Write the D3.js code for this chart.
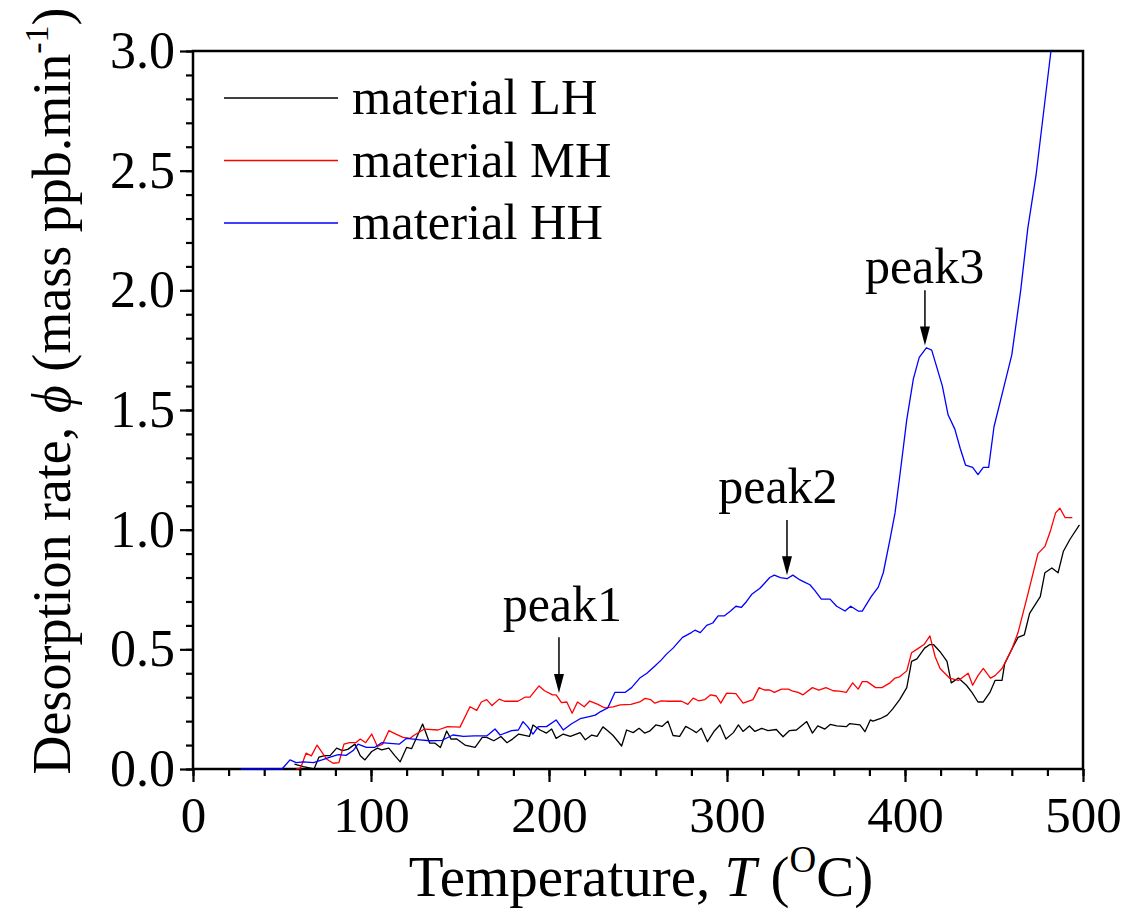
<!DOCTYPE html>
<html><head><meta charset="utf-8">
<script src="https://cdn.jsdelivr.net/npm/d3@7/dist/d3.min.js"></script>
<style>body{margin:0;background:#fff}svg{display:block}text{font-family:"Liberation Serif","Times New Roman",serif}</style>
</head><body>
<svg id="c" width="1128" height="910"></svg>
<script>
// ---- data ----
const xTicks = [0,100,200,300,400,500];
const yTicks = [0.0,0.5,1.0,1.5,2.0,2.5,3.0];
const seriesNames = ["material LH","material MH","material HH"];
const seriesColors = ["#000000","#ff0000","#0000ff"];

const dataLH = [[57,0.02],[62,0.01],[68,0.0],[70.8,0.05],[74,0.056],[77,0.056],[80.7,0.087],[84,0.077],[87,0.082],[91,0.104],[94,0.055],[96.6,0.038],[100.4,0.073],[103.6,0.087],[106,0.08],[110,0.087],[113.5,0.055],[116.4,0.03],[120,0.09],[122.8,0.085],[129,0.188],[133,0.108],[136,0.108],[139,0.09],[142.5,0.159],[145,0.125],[148,0.126],[152.8,0.10],[158.5,0.09],[162.5,0.132],[165,0.132],[169,0.118],[173,0.136],[176.4,0.11],[179.5,0.125],[183,0.146],[189,0.136],[191,0.184],[195,0.163],[198.6,0.15],[201.5,0.167],[204,0.128],[208,0.146],[212,0.136],[217.5,0.152],[220.4,0.122],[224,0.142],[227,0.136],[230.3,0.176],[233,0.16],[236,0.14],[240.8,0.096],[243.6,0.163],[247.3,0.152],[250.6,0.17],[253.7,0.15],[256.5,0.158],[260,0.184],[263.5,0.178],[266.8,0.2],[269.7,0.14],[273.4,0.136],[276.8,0.178],[280,0.165],[282.8,0.152],[285.6,0.17],[289,0.114],[293,0.16],[296,0.184],[299.4,0.125],[303.6,0.152],[306.4,0.184],[309,0.157],[312.6,0.18],[315.7,0.157],[319.5,0.17],[323,0.16],[327.7,0.165],[331.5,0.135],[335,0.16],[339,0.163],[344.8,0.198],[348,0.15],[351,0.18],[355,0.167],[358,0.186],[361.6,0.18],[367,0.177],[369,0.19],[374.7,0.184],[377.5,0.156],[380.5,0.205],[382,0.20],[386,0.21],[390,0.225],[393,0.25],[397,0.29],[401,0.34],[403.7,0.45],[406.7,0.46],[411,0.505],[414,0.52],[416,0.52],[419.7,0.49],[423.6,0.45],[426,0.36],[430,0.38],[434.5,0.35],[437.6,0.32],[441,0.28],[444,0.28],[447.7,0.32],[450.6,0.37],[454.5,0.37],[456,0.44],[460,0.50],[463.5,0.55],[467,0.56],[470,0.65],[476,0.72],[478.6,0.82],[482.5,0.84],[486,0.82],[489,0.91],[492.7,0.96],[498,1.02]];

const dataMH = [[58,0],[60.5,0.005],[63.5,0.066],[66.5,0.055],[69.7,0.10],[75,0.042],[78.7,0.024],[82,0.027],[84.8,0.104],[88,0.11],[91.4,0.11],[94,0.125],[97,0.11],[100.4,0.146],[103.6,0.094],[106.5,0.104],[110,0.16],[114,0.146],[118,0.132],[122,0.128],[124,0.14],[130,0.167],[137.6,0.163],[143,0.177],[150,0.175],[155.6,0.26],[159.4,0.245],[162,0.28],[165,0.29],[168,0.265],[172,0.292],[175,0.283],[182.5,0.283],[186.5,0.30],[189.3,0.30],[194.4,0.347],[197.5,0.327],[202,0.31],[204,0.31],[207,0.277],[210,0.28],[213,0.233],[216,0.28],[219.8,0.26],[222.9,0.284],[227.5,0.27],[231.3,0.255],[236,0.26],[240,0.268],[246,0.27],[251,0.28],[254,0.295],[257,0.29],[259.5,0.275],[263,0.285],[267,0.283],[274.5,0.283],[278,0.27],[281,0.296],[284,0.285],[287.6,0.29],[290.8,0.31],[294,0.305],[296.5,0.275],[299.8,0.317],[305,0.315],[309,0.275],[314.6,0.29],[318,0.34],[321,0.33],[324,0.33],[326.6,0.32],[330.7,0.334],[334.5,0.334],[337,0.325],[340,0.32],[342.7,0.31],[348,0.34],[351.6,0.33],[355.6,0.34],[359.6,0.327],[363,0.325],[367,0.32],[370.6,0.36],[373.7,0.334],[376,0.365],[378.7,0.365],[383.5,0.34],[387,0.34],[391.6,0.36],[394.4,0.38],[397,0.385],[401,0.41],[403.7,0.486],[406.6,0.50],[410.7,0.52],[414,0.556],[416.9,0.47],[419.7,0.42],[425,0.38],[430,0.37],[435.5,0.40],[438,0.35],[441,0.39],[444,0.42],[448,0.38],[450.6,0.39],[454.5,0.42],[460,0.50],[463.5,0.57],[469,0.73],[474.7,0.90],[478.6,0.93],[481.5,0.99],[484.6,1.07],[487,1.09],[490,1.05],[494,1.05]];

const dataHH = [[27,0],[50,0],[54.5,0.038],[58,0.027],[62,0.03],[67.7,0.027],[72.5,0.038],[77,0.05],[81.6,0.06],[86,0.057],[90,0.077],[92.7,0.104],[97.4,0.09],[102,0.09],[106,0.11],[110.6,0.107],[116,0.104],[120,0.128],[127.5,0.122],[133,0.118],[140,0.12],[146,0.142],[152,0.136],[158,0.138],[165,0.138],[169.7,0.167],[172.5,0.142],[179,0.16],[182.8,0.163],[185.4,0.198],[188,0.177],[191,0.146],[194,0.177],[198.6,0.177],[204,0.205],[208,0.163],[212.5,0.188],[217.5,0.21],[222,0.218],[226,0.225],[229,0.24],[233,0.255],[237,0.32],[242.7,0.32],[246.4,0.34],[251,0.38],[255,0.40],[259.5,0.43],[263,0.455],[266,0.48],[269.7,0.505],[275,0.55],[280,0.57],[282,0.58],[285,0.57],[288.6,0.60],[292,0.61],[295,0.64],[298.6,0.64],[302,0.66],[305,0.68],[308,0.675],[311,0.70],[313.9,0.73],[318.5,0.755],[321,0.775],[324,0.80],[326.6,0.81],[330,0.80],[333.7,0.795],[337,0.81],[341,0.79],[343.8,0.78],[346.6,0.77],[349.4,0.745],[353,0.71],[357.9,0.71],[361.6,0.68],[366.3,0.66],[369.5,0.68],[373.7,0.66],[376,0.66],[381,0.72],[385,0.76],[387.8,0.82],[391.6,0.96],[394.4,1.07],[397,1.22],[401,1.46],[404.7,1.63],[408,1.72],[412,1.76],[415,1.75],[417.8,1.68],[421,1.60],[424.2,1.48],[428,1.42],[431,1.34],[434,1.27],[438,1.26],[441,1.23],[444,1.26],[447,1.26],[450,1.43],[455,1.58],[460,1.73],[465,2.0],[469,2.26],[473.6,2.48],[478.6,2.79],[482,3.0]];

// annotations
const peakLabels = ["peak1","peak2","peak3"];
const peakArrowT = [205.6,333.7,411.2];
const peakTip = [0.318,0.81,1.77];
const peakTail = [0.55,1.04,2.0];
const peakTextV = [0.62,1.11,2.03];
const peakTextT = [207.5,328.6,411.0];

// ---- layout ----
const L=193, R=1083, T=51, B=769;
const svg = d3.select("#c");
const x = d3.scaleLinear().domain([0,500]).range([L,R]);
const y = d3.scaleLinear().domain([0,3]).range([B,T]);
const FONT = '"Liberation Serif","Times New Roman",serif';

// axes
const xAxis = d3.axisBottom(x).tickValues(xTicks).tickSize(13).tickPadding(14).tickFormat(d3.format("d"));
const xMinor = d3.axisBottom(x).tickValues(d3.range(0,501,20)).tickSize(7).tickFormat("");
const yAxis = d3.axisLeft(y).tickValues(yTicks).tickSize(13).tickPadding(5).tickFormat(d3.format(".1f"));
const yMinor = d3.axisLeft(y).tickValues(d3.range(0,3.001,0.1)).tickSize(7).tickFormat("");

function styleAxis(sel){
  sel.select(".domain").remove();
  sel.selectAll("line").attr("stroke","#000").attr("stroke-width",2.2);
  sel.selectAll("text").attr("fill","#000").style("font-family",FONT);
}
svg.append("g").attr("transform",`translate(0,${B})`).call(xMinor).call(styleAxis);
const gx = svg.append("g").attr("transform",`translate(0,${B})`).call(xAxis).call(styleAxis);
gx.selectAll("text").style("font-size","51px");
svg.append("g").attr("transform",`translate(${L},0)`).call(yMinor).call(styleAxis);
const gy = svg.append("g").attr("transform",`translate(${L},0)`).call(yAxis).call(styleAxis);
gy.selectAll("text").style("font-size","52px");

// frame
svg.append("rect").attr("x",L).attr("y",T).attr("width",R-L).attr("height",B-T)
  .attr("fill","none").attr("stroke","#000").attr("stroke-width",2.5);

// data lines (drawn over the frame, clipped to plot area)
svg.append("defs").append("clipPath").attr("id","clip")
  .append("rect").attr("x",L).attr("y",T).attr("width",R-L).attr("height",B-T+2);
const series = [dataLH,dataMH,dataHH];
const line = d3.line().x(d=>x(d[0])).y(d=>y(d[1]));
const g = svg.append("g").attr("clip-path","url(#clip)");
series.forEach((s,i)=>{
  g.append("path").datum(s).attr("d",line).attr("fill","none")
   .attr("stroke",seriesColors[i]).attr("stroke-width",1.3).attr("stroke-linejoin","round");
});

// legend
seriesNames.forEach((n,i)=>{
  const yy = 98 + i*62.5;
  svg.append("line").attr("x1",224).attr("x2",338).attr("y1",yy).attr("y2",yy)
    .attr("stroke",seriesColors[i]).attr("stroke-width",1.3);
  svg.append("text").attr("x",352).attr("y",yy+16).style("font-size","50.5px").text(n);
});

// peak annotations
peakLabels.forEach((p,i)=>{
  const ax = x(peakArrowT[i]);
  const tip = y(peakTip[i]), tail = y(peakTail[i]);
  svg.append("line").attr("x1",ax).attr("x2",ax).attr("y1",tail).attr("y2",tip-16)
    .attr("stroke","#000").attr("stroke-width",1.5);
  svg.append("path").attr("d",`M${ax-5},${tip-19} L${ax+5},${tip-19} L${ax},${tip} Z`).attr("fill","#000");
  svg.append("text").attr("x",x(peakTextT[i])).attr("y",y(peakTextV[i]))
    .attr("text-anchor","middle").style("font-size","50px").text(p);
});

// axis titles
const xt = svg.append("text").attr("x",641).attr("y",896).attr("text-anchor","middle").style("font-size","57px");
xt.append("tspan").text("Temperature, ");
xt.append("tspan").style("font-style","italic").text("T");
xt.append("tspan").text(" (");
xt.append("tspan").attr("dy",-24).style("font-size","37px").text("O");
xt.append("tspan").attr("dy",24).text("C)");

const yt = svg.append("text").attr("transform","translate(70,391) rotate(-90)").attr("text-anchor","middle").style("font-size","54px");
yt.append("tspan").text("Desorption rate, ");
yt.append("tspan").style("font-style","italic").text("\u03D5");
yt.append("tspan").text(" (mass ppb.min");
yt.append("tspan").attr("dy",-22).style("font-size","34px").text("-1");
yt.append("tspan").attr("dy",22).text(")");
</script>
</body></html>
